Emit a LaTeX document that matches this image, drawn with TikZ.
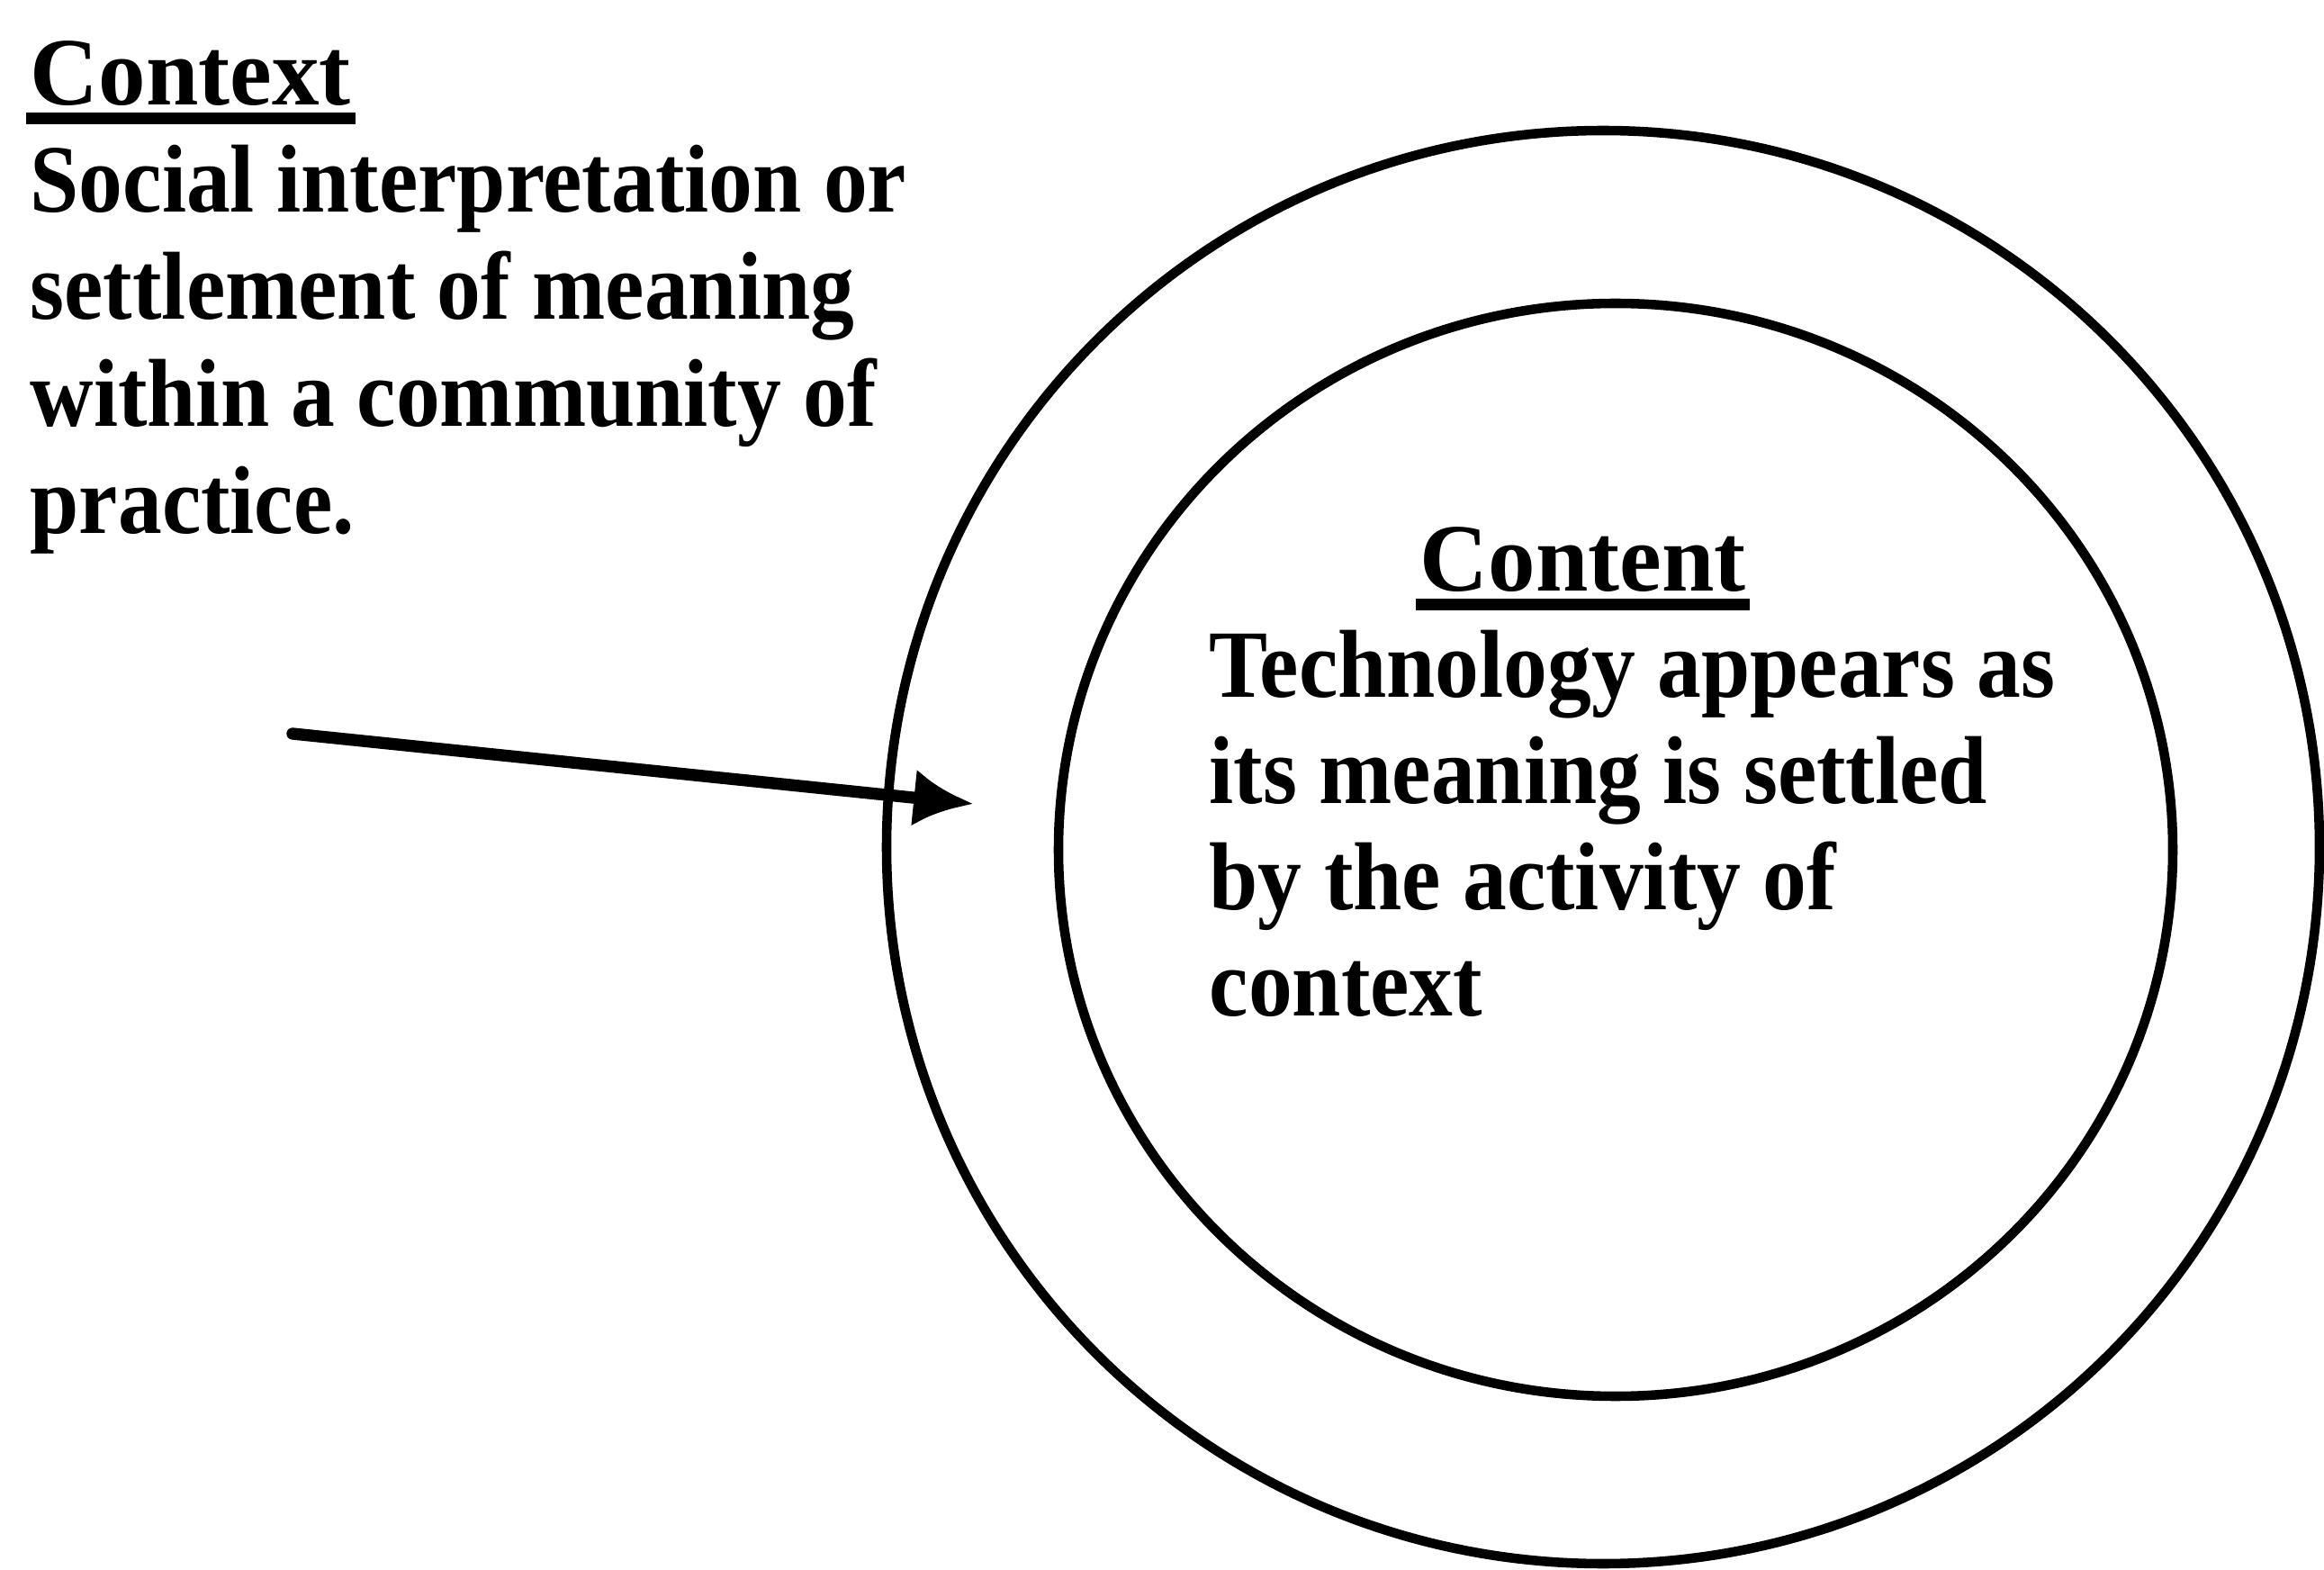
\documentclass[tikz,border=0pt]{standalone}
\usepackage{fontspec}
\setmainfont[FakeStretch=0.91]{Liberation Serif}
\newfontfamily\headfont[FakeStretch=0.98]{Liberation Serif}
\usetikzlibrary{arrows.meta, shapes.geometric}

\newcommand{\ulword}[1]{\leavevmode\setbox0=\hbox{#1}\rlap{\kern-1.4pt\rule[-6pt]{\dimexpr\wd0+2.8pt\relax}{3.8pt}}\box0}

\tikzset{
  ring/.style={ellipse, draw, line width=3pt, inner sep=0pt},
  textline/.style={inner sep=0pt, anchor=base west, font=\fontsize{30.5}{33}\selectfont\bfseries},
  headline/.style={textline, font=\headfont\fontsize{30.5}{33}\selectfont\bfseries},
  pointer/.style={line width=3.8pt, line cap=round, -{Latex[length=19pt, width=18pt]}}
}

\begin{document}
\begin{tikzpicture}
			\useasboundingbox (0,0) rectangle (25.82,-17.44);
			
			% the two rings
			\node [ring, minimum width=15.92cm, minimum height=15.92cm] (outer) at (17.81,-9.41) {};
			\node [ring, minimum width=12.38cm, minimum height=12.14cm] (inner) at (17.95,-9.44) {};
			
			% outside text
			\node [headline] (ctxhead) at (0.33,-1.17) {\ulword{Context}};
			\foreach \txt [count=\i] in {Social interpretation or, settlement of meaning, within a community of, practice.}
			{
				\node [textline] (ctx\i) at (0.33,-1.17-1.19*\i) {\txt};
			}
			
			% inside text
			\node [headline] (cnthead) at (15.77,-6.57) {\ulword{Content}};
			\foreach \txt [count=\i] in {Technology appears as, its meaning is settled, by the activity of, context}
			{
				\node [textline] (cnt\i) at (13.43,-6.57-1.18*\i) {\txt};
			}
			
			\coordinate (arrowstart) at (3.25,-8.15);
			\coordinate (arrowtip) at (10.82,-8.93);
			\draw [pointer] (arrowstart) -- (arrowtip);
		\end{tikzpicture}
\end{document}
